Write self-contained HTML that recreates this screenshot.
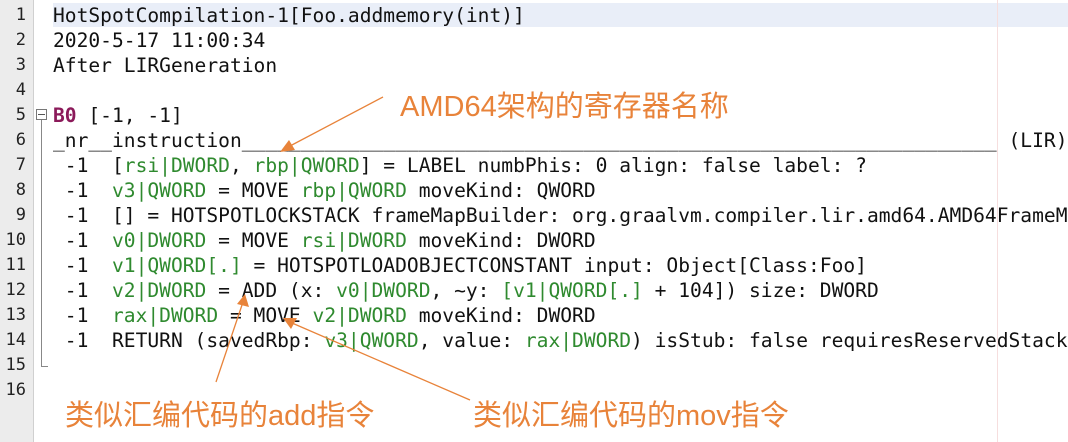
<!DOCTYPE html>
<html><head><meta charset="utf-8"><style>
html,body{margin:0;padding:0}
body{width:1068px;height:442px;overflow:hidden;background:#fff;position:relative;font-family:"DejaVu Sans Mono","Liberation Mono",monospace}
.g{position:absolute;left:0;top:0;width:33px;height:442px;background:#ececec;border-right:1px solid #d0d0d0}
.n{position:absolute;left:0;width:26px;text-align:right;font-size:17px;color:#222;line-height:25px}
.l{position:absolute;left:53px;width:1015px;overflow:hidden;font-size:19.6px;line-height:25px;white-space:pre;color:#111}
.k{color:#2f8a2f}
.b{color:#8b1a5a;font-weight:bold}
.o{position:absolute;color:#e8833a;font-family:"Liberation Sans","Noto Sans CJK SC",sans-serif;font-size:29px;white-space:nowrap}
</style></head><body>
<div class="g"></div>
<div style="position:absolute;left:53px;top:3px;width:1015px;height:24px;background:#e9eef8"></div>
<div style="position:absolute;left:997px;top:0;width:1px;height:442px;background:#f6dede"></div>
<div class="n" style="top:3px">1</div><div class="n" style="top:28px">2</div><div class="n" style="top:53px">3</div><div class="n" style="top:78px">4</div><div class="n" style="top:103px">5</div><div class="n" style="top:128px">6</div><div class="n" style="top:153px">7</div><div class="n" style="top:178px">8</div><div class="n" style="top:203px">9</div><div class="n" style="top:228px">10</div><div class="n" style="top:253px">11</div><div class="n" style="top:278px">12</div><div class="n" style="top:303px">13</div><div class="n" style="top:328px">14</div><div class="n" style="top:353px">15</div><div class="n" style="top:378px">16</div>
<div style="position:absolute;left:36px;top:109px;width:9px;height:9px;border:1px solid #777;background:#fff"></div>
<div style="position:absolute;left:38px;top:114px;width:7px;height:1px;background:#555"></div>
<div style="position:absolute;left:41px;top:120px;width:1px;height:247px;background:#888"></div>
<div style="position:absolute;left:41px;top:366px;width:7px;height:1px;background:#888"></div>
<div class="l" style="top:3px">HotSpotCompilation-1[Foo.addmemory(int)]</div>
<div class="l" style="top:28px">2020-5-17 11:00:34</div>
<div class="l" style="top:53px">After LIRGeneration</div>
<div class="l" style="top:103px"><span class="b">B0</span> [-1, -1]</div>
<div class="l" style="top:128px">_nr__instruction________________________________________________________________ (LIR)</div>
<div class="l" style="top:153px"> -1  [<span class="k">rsi|DWORD</span>, <span class="k">rbp|QWORD</span>] = LABEL numbPhis: 0 align: false label: ?</div>
<div class="l" style="top:178px"> -1  <span class="k">v3|QWORD</span> = MOVE <span class="k">rbp|QWORD</span> moveKind: QWORD</div>
<div class="l" style="top:203px"> -1  [] = HOTSPOTLOCKSTACK frameMapBuilder: org.graalvm.compiler.lir.amd64.AMD64FrameMapBuilder</div>
<div class="l" style="top:228px"> -1  <span class="k">v0|DWORD</span> = MOVE <span class="k">rsi|DWORD</span> moveKind: DWORD</div>
<div class="l" style="top:253px"> -1  <span class="k">v1|QWORD[.]</span> = HOTSPOTLOADOBJECTCONSTANT input: Object[Class:Foo]</div>
<div class="l" style="top:278px"> -1  <span class="k">v2|DWORD</span> = ADD (x: <span class="k">v0|DWORD</span>, ~y: <span class="k">[v1|QWORD[.]</span> + 104]) size: DWORD</div>
<div class="l" style="top:303px"> -1  <span class="k">rax|DWORD</span> = MOVE <span class="k">v2|DWORD</span> moveKind: DWORD</div>
<div class="l" style="top:328px"> -1  RETURN (savedRbp: <span class="k">v3|QWORD</span>, value: <span class="k">rax|DWORD</span>) isStub: false requiresReservedStackAccessCheck</div>
<div class="o" style="left:400px;top:83px">AMD64架构的寄存器名称</div>
<div class="o" style="left:65px;top:392px">类似汇编代码的add指令</div>
<div class="o" style="left:473px;top:392px">类似汇编代码的mov指令</div>
<svg style="position:absolute;left:0;top:0" width="1068" height="442">
<g stroke="#e8833a" stroke-width="1.3" fill="#e8833a">
<line x1="383" y1="97" x2="290" y2="146"/>
<polygon points="280,152 289,140 295,150" stroke="none"/>
<line x1="216" y1="382" x2="243" y2="302"/>
<polygon points="245,294 249,307 237,304" stroke="none"/>
<line x1="470" y1="400" x2="292" y2="323"/>
<polygon points="283,318 297,318 291,329" stroke="none"/>
</g></svg>
</body></html>
